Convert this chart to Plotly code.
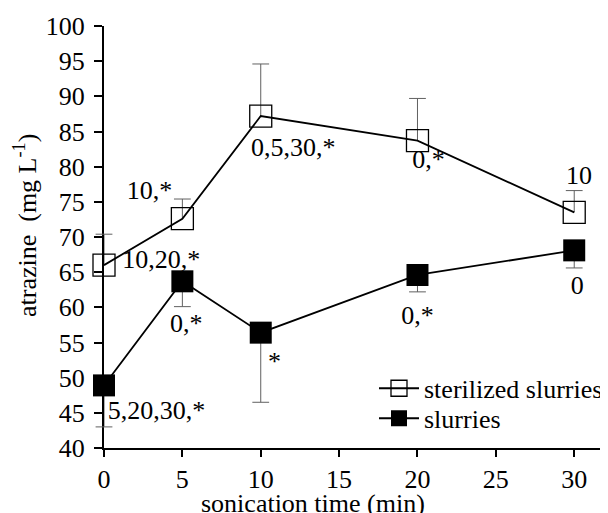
import plotly.graph_objects as go

# ---- data ----
time_min = [0, 5, 10, 20, 30]
sterilized = [66.0, 72.6, 87.2, 83.7, 73.5]
sterilized_err_up = [4.4, 2.8, 7.4, 6.0, 3.1]
slurries = [48.9, 63.7, 56.4, 64.6, 68.1]
slurries_err_down = [5.9, 3.6, 9.9, 2.4, 2.5]

labels_text = ["10,*", "10,20,*", "5,20,30,*", "0,*", "0,5,30,*", "0,*", "*", "0,*", "10", "0"]
labels_x = [2.9, 3.66, 3.35, 5.24, 12.07, 20.7, 10.87, 20.0, 30.3, 30.2]
labels_y = [76.3, 66.5, 45.0, 57.4, 82.4, 80.7, 52.0, 58.6, 78.5, 62.8]

x_tick_vals = [0, 5, 10, 15, 20, 25, 30]
x_title = "sonication time (min)"
y_title = "atrazine  (mg L<sup>-1</sup>)"

FONT = "'Liberation Serif', 'Times New Roman', serif"
FS = 26
ERRC = "#606060"

fig = go.Figure()

def err_traces(xs, ys, ends):
    sx, sy = [], []
    for x, y, e in zip(xs, ys, ends):
        sx += [x, x, None]
        sy += [y, e, None]
    fig.add_trace(go.Scatter(x=sx, y=sy, mode="lines", line=dict(color=ERRC, width=1),
                             showlegend=False, hoverinfo="skip", cliponaxis=False))
    fig.add_trace(go.Scatter(x=xs, y=ends, mode="markers",
                             marker=dict(symbol="line-ew", size=12, line=dict(color=ERRC, width=1)),
                             showlegend=False, hoverinfo="skip", cliponaxis=False))

err_traces(time_min, sterilized, [v + e for v, e in zip(sterilized, sterilized_err_up)])
err_traces(time_min, slurries, [v - e for v, e in zip(slurries, slurries_err_down)])

fig.add_trace(go.Scatter(
    x=time_min, y=sterilized, mode="lines+markers", name="sterilized slurries",
    line=dict(color="black", width=1.8),
    marker=dict(symbol="square-open", size=22, color="black", line=dict(width=1.3)),
    cliponaxis=False, legend="legend"))
fig.add_trace(go.Scatter(
    x=time_min, y=slurries, mode="lines+markers", name="slurries",
    line=dict(color="black", width=1.8),
    marker=dict(symbol="square", size=22, color="black"),
    cliponaxis=False, legend="legend2"))

fig.add_trace(go.Scatter(
    x=labels_x, y=labels_y, mode="text", text=labels_text,
    textfont=dict(family=FONT, size=FS, color="black"),
    showlegend=False, hoverinfo="skip", cliponaxis=False))

tick_font = dict(family=FONT, size=FS, color="black")
leg_common = dict(x=0.540, xanchor="left", yanchor="top",
                  bgcolor="rgba(0,0,0,0)", font=dict(family=FONT, size=FS),
                  itemwidth=40, tracegroupgap=0)

# the page body adds an 8px offset, so the figure is 8px smaller
fig.update_layout(
    width=600, height=505,
    margin=dict(l=96, r=0, t=18, b=65),
    paper_bgcolor="white", plot_bgcolor="white",
    font=dict(family=FONT, size=FS, color="black"),
    showlegend=True,
    legend=dict(y=0.197, **leg_common),
    legend2=dict(y=0.126, **leg_common),
    xaxis=dict(range=[0, 31.9], tickvals=x_tick_vals, tickfont=tick_font,
               showline=True, linecolor="black", linewidth=2, automargin=False,
               ticks="outside", ticklen=7, tickwidth=1.5, tickcolor="black",
               showgrid=False, zeroline=False, layer="below traces"),
    yaxis=dict(range=[40, 100], dtick=5, tickfont=tick_font,
               showline=True, linecolor="black", linewidth=2, automargin=False,
               ticks="outside", ticklen=8, tickwidth=1.5, tickcolor="black",
               ticklabelstandoff=4,
               showgrid=False, zeroline=False, layer="below traces"),
    annotations=[
        dict(text=x_title, xref="paper", yref="paper", x=0.417, y=0, yshift=-55,
             xanchor="center", yanchor="middle", showarrow=False,
             font=dict(family=FONT, size=FS, color="black")),
        dict(text=y_title, xref="paper", yref="paper", x=0, y=0.526, xshift=-79,
             xanchor="center", yanchor="middle", textangle=-90, showarrow=False,
             font=dict(family=FONT, size=FS, color="black")),
    ],
)

fig.write_html("out.html")
